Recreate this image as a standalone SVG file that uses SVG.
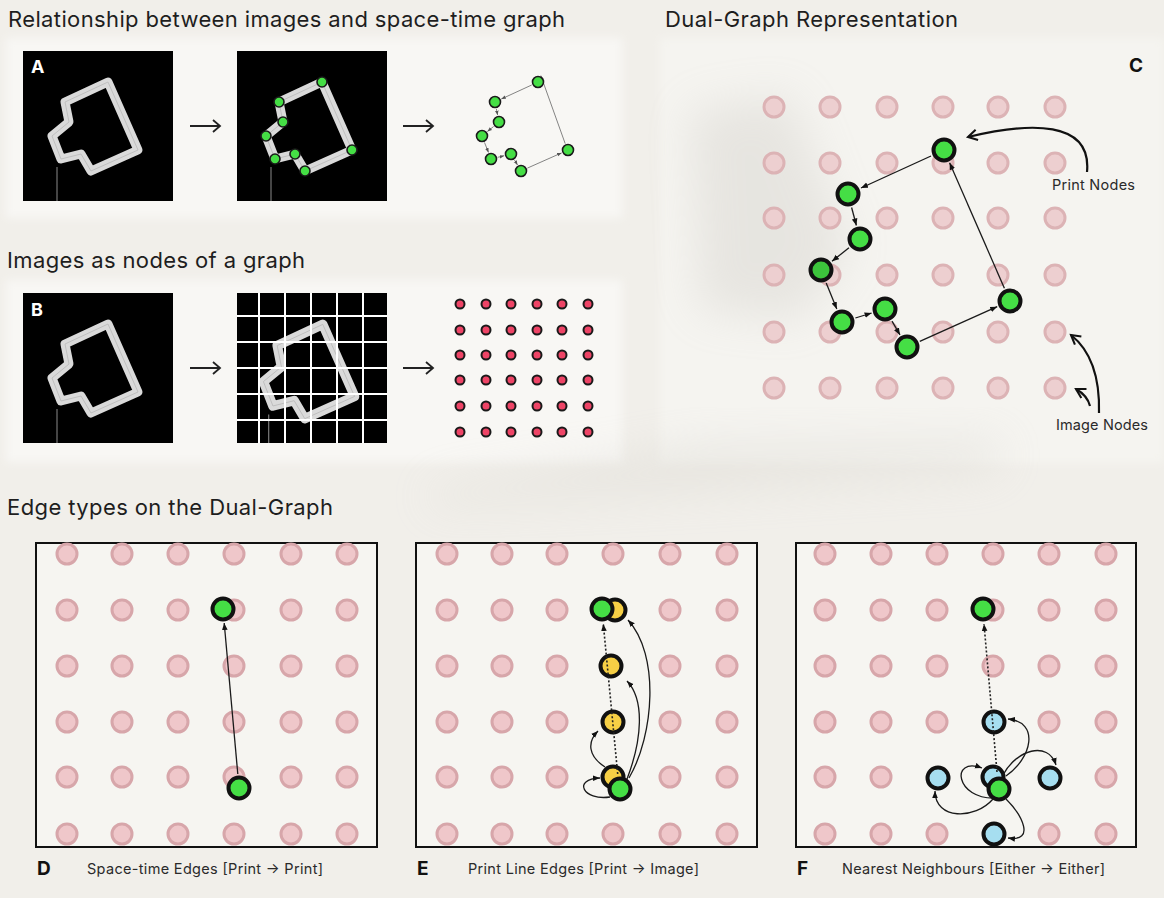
<svg xmlns="http://www.w3.org/2000/svg" xmlns:xlink="http://www.w3.org/1999/xlink" width="1164" height="898" viewBox="0 0 1164 898">
<style>
.title{font-family:Inter,"Liberation Sans",sans-serif;font-size:22px;fill:#1e1e1e}
.lbl{font-family:Inter,"Liberation Sans",sans-serif;font-size:14.5px;fill:#2a2a2a}
.letter{font-family:Inter,"Liberation Sans",sans-serif;font-weight:700;fill:#111}
.img{fill:#efc7ca;stroke:#d7a6aa;stroke-width:3}
.imgc{fill:#edcfd0;stroke:#dcb3b5;stroke-width:3}
.pr{fill:#45de45;stroke:#111;stroke-width:4}
.ye{fill:#f6cf45;stroke:#111;stroke-width:4}
.bl{fill:#a6def0;stroke:#111;stroke-width:4}
.sm{fill:#45de45;stroke:#1a1a1a;stroke-width:1.6}
.red{fill:#ee4466;stroke:#1a1a1a;stroke-width:2}
.edge{fill:none;stroke:#1a1a1a;stroke-width:1.3}
.edges{fill:none;stroke:#666;stroke-width:0.8}
.dot{fill:none;stroke:#222;stroke-width:1.6;stroke-dasharray:2 2}
.bigarrow{fill:none;stroke:#222;stroke-width:1.8}
.callout{fill:none;stroke:#111;stroke-width:2.2}
.frame{fill:#f6f5f1;stroke:#111;stroke-width:2}
</style>
<defs>
<marker id="ah" viewBox="0 0 10 10" refX="10" refY="5" markerWidth="7" markerHeight="7" markerUnits="userSpaceOnUse" orient="auto"><path d="M0,1 L10,5 L0,9 z" fill="#111"/></marker>
<marker id="ahs" viewBox="0 0 10 10" refX="10" refY="5" markerWidth="4.5" markerHeight="4.5" markerUnits="userSpaceOnUse" orient="auto"><path d="M0,1 L10,5 L0,9 z" fill="#555"/></marker>
<marker id="aho" viewBox="0 0 10 10" refX="8" refY="5" markerWidth="13" markerHeight="13" markerUnits="userSpaceOnUse" orient="auto"><path d="M1,1 L8,5 L1,9" fill="none" stroke="#111" stroke-width="1.6"/></marker>
<filter id="blur" x="-50%" y="-50%" width="200%" height="200%"><feGaussianBlur stdDeviation="22"/></filter>
<filter id="soft" x="-10%" y="-10%" width="120%" height="120%"><feGaussianBlur stdDeviation="4"/></filter>
<circle id="pk" cx="0" cy="0" r="10" class="img"/>
<circle id="pkc" cx="0" cy="0" r="10" class="imgc"/>
<circle id="rd" cx="0" cy="0" r="4.5" class="red"/>
<g id="shape">
<polygon points="85,31 42,51 46,71 29,85 38,108 58,103 68,120 115,99" fill="none" stroke="#dadada" stroke-width="9" stroke-linejoin="round"/>
<polygon points="85,31 42,51 46,71 29,85 38,108 58,103 68,120 115,99" fill="none" stroke="#b9b9b9" stroke-width="0.8"/>
<line x1="34" y1="116" x2="34" y2="150" stroke="#8a8a8a" stroke-width="1"/>
</g>
<clipPath id="gclip"><rect x="0" y="0" width="150" height="150"/></clipPath>
</defs>

<!-- background -->
<rect x="0" y="0" width="1164" height="898" fill="#f1efea"/>
<g id="bg-shading">
<rect x="6" y="38" width="616" height="180" fill="#f8f7f4" filter="url(#soft)"/>
<rect x="6" y="280" width="616" height="182" fill="#f8f7f4" filter="url(#soft)"/>
<rect x="660" y="38" width="504" height="425" fill="#f5f4f0" filter="url(#soft)"/>
<path d="M690,110 L790,95 L850,250 L800,320 L700,310 Z" fill="#bdb9b2" opacity="0.25" filter="url(#blur)"/>
<path d="M430,490 L700,445 L1000,440 L1000,470 L700,490 L430,505 Z" fill="#cfccc5" opacity="0.3" filter="url(#blur)"/>
</g>

<!-- titles -->
<text class="title" x="8" y="27" textLength="557" lengthAdjust="spacing">Relationship between images and space-time graph</text>
<text class="title" x="665" y="27" textLength="293" lengthAdjust="spacing">Dual-Graph Representation</text>
<text class="title" x="7" y="268" textLength="298" lengthAdjust="spacing">Images as nodes of a graph</text>
<text class="title" x="7" y="515" textLength="326" lengthAdjust="spacing">Edge types on the Dual-Graph</text>

<!-- Panel A -->
<g id="A-image">
<rect x="23" y="51" width="150" height="150" fill="#000"/>
<use href="#shape" transform="translate(23,51)"/>
<text class="letter" x="31" y="73" font-size="18" style="fill:#fff">A</text>
</g>
<g id="A-image-nodes">
<rect x="237" y="51" width="150" height="150" fill="#000"/>
<use href="#shape" transform="translate(237,51)"/>
<g>
<circle class="sm" cx="322" cy="82" r="5"/><circle class="sm" cx="279" cy="102" r="5"/>
<circle class="sm" cx="283" cy="122" r="5"/><circle class="sm" cx="266" cy="136" r="5"/>
<circle class="sm" cx="275" cy="159" r="5"/><circle class="sm" cx="295" cy="154" r="5"/>
<circle class="sm" cx="305" cy="171" r="5"/><circle class="sm" cx="352" cy="150" r="5"/>
</g>
</g>
<g id="A-arrows">
<path class="bigarrow" d="M190,126 H220 M213,120 L220,126 L213,132"/>
<path class="bigarrow" d="M403,126 H433 M426,120 L433,126 L426,132"/>
</g>
<g id="A-graph-edges">
<line class="edges" x1="531.7" y1="85" x2="501.3" y2="99" marker-end="url(#ahs)"/>
<line class="edges" x1="496.4" y1="108.9" x2="497.6" y2="115.1" marker-end="url(#ahs)"/>
<line class="edges" x1="493.6" y1="126.5" x2="487.4" y2="131.5" marker-end="url(#ahs)"/>
<line class="edges" x1="484.5" y1="142.5" x2="488.5" y2="152.5" marker-end="url(#ahs)"/>
<line class="edges" x1="497.8" y1="157.3" x2="504.2" y2="155.7" marker-end="url(#ahs)"/>
<line class="edges" x1="514.5" y1="160" x2="517.5" y2="165" marker-end="url(#ahs)"/>
<line class="edges" x1="527.4" y1="168.1" x2="561.6" y2="152.9" marker-end="url(#ahs)"/>
<line class="edges" x1="565.2" y1="143.6" x2="540.8" y2="75.6" marker-end="url(#ahs)"/>
</g>
<g id="A-graph-nodes">
<circle id="a1" class="sm" cx="538" cy="82" r="5.5"/><circle id="a2" class="sm" cx="495" cy="102" r="5.5"/>
<circle id="a3" class="sm" cx="499" cy="122" r="5.5"/><circle id="a4" class="sm" cx="482" cy="136" r="5.5"/>
<circle id="a5" class="sm" cx="491" cy="159" r="5.5"/><circle id="a6" class="sm" cx="511" cy="154" r="5.5"/>
<circle id="a7" class="sm" cx="521" cy="171" r="5.5"/><circle id="a8" class="sm" cx="568" cy="150" r="5.5"/>
</g>

<!-- Panel B -->
<g id="B-image">
<rect x="23" y="293" width="150" height="150" fill="#000"/>
<use href="#shape" transform="translate(23,293)"/>
<text class="letter" x="31" y="316" font-size="18" style="fill:#fff">B</text>
</g>
<g id="B-grid-image">
<rect x="237" y="293" width="150" height="150" fill="#000"/>
<g transform="translate(237,293)" clip-path="url(#gclip)">
<use href="#shape" transform="translate(72,78) scale(1.06) translate(-72,-75)"/>
</g>
<g stroke="#fff" stroke-width="2">
<line x1="259" y1="293" x2="259" y2="443"/><line x1="285" y1="293" x2="285" y2="443"/>
<line x1="311" y1="293" x2="311" y2="443"/><line x1="337" y1="293" x2="337" y2="443"/>
<line x1="363" y1="293" x2="363" y2="443"/>
<line x1="237" y1="316" x2="387" y2="316"/><line x1="237" y1="342" x2="387" y2="342"/>
<line x1="237" y1="368" x2="387" y2="368"/><line x1="237" y1="394" x2="387" y2="394"/>
<line x1="237" y1="420" x2="387" y2="420"/>
</g>
</g>
<g id="B-arrows">
<path class="bigarrow" d="M190,368 H220 M213,362 L220,368 L213,374"/>
<path class="bigarrow" d="M403,368 H433 M426,362 L433,368 L426,374"/>
</g>
<g id="B-nodes">
<use href="#rd" x="460" y="304"/><use href="#rd" x="486" y="304"/><use href="#rd" x="511" y="304"/><use href="#rd" x="537" y="304"/><use href="#rd" x="562" y="304"/><use href="#rd" x="588" y="304"/>
<use href="#rd" x="460" y="330"/><use href="#rd" x="486" y="330"/><use href="#rd" x="511" y="330"/><use href="#rd" x="537" y="330"/><use href="#rd" x="562" y="330"/><use href="#rd" x="588" y="330"/>
<use href="#rd" x="460" y="355"/><use href="#rd" x="486" y="355"/><use href="#rd" x="511" y="355"/><use href="#rd" x="537" y="355"/><use href="#rd" x="562" y="355"/><use href="#rd" x="588" y="355"/>
<use href="#rd" x="460" y="380"/><use href="#rd" x="486" y="380"/><use href="#rd" x="511" y="380"/><use href="#rd" x="537" y="380"/><use href="#rd" x="562" y="380"/><use href="#rd" x="588" y="380"/>
<use href="#rd" x="460" y="406"/><use href="#rd" x="486" y="406"/><use href="#rd" x="511" y="406"/><use href="#rd" x="537" y="406"/><use href="#rd" x="562" y="406"/><use href="#rd" x="588" y="406"/>
<use href="#rd" x="460" y="432"/><use href="#rd" x="486" y="432"/><use href="#rd" x="511" y="432"/><use href="#rd" x="537" y="432"/><use href="#rd" x="562" y="432"/><use href="#rd" x="588" y="432"/>
</g>

<!-- Panel C -->
<text class="letter" x="1129" y="72" font-size="19">C</text>
<g id="C-image-nodes">
<use href="#pkc" x="774" y="107"/><use href="#pkc" x="830" y="107"/><use href="#pkc" x="887" y="107"/><use href="#pkc" x="943" y="107"/><use href="#pkc" x="998" y="107"/><use href="#pkc" x="1055" y="107"/>
<use href="#pkc" x="774" y="163"/><use href="#pkc" x="830" y="163"/><use href="#pkc" x="887" y="163"/><use href="#pkc" x="943" y="163"/><use href="#pkc" x="998" y="163"/><use href="#pkc" x="1055" y="163"/>
<use href="#pkc" x="774" y="218"/><use href="#pkc" x="830" y="218"/><use href="#pkc" x="887" y="218"/><use href="#pkc" x="943" y="218"/><use href="#pkc" x="998" y="218"/><use href="#pkc" x="1055" y="218"/>
<use href="#pkc" x="774" y="275"/><use href="#pkc" x="830" y="275"/><use href="#pkc" x="887" y="275"/><use href="#pkc" x="943" y="275"/><use href="#pkc" x="998" y="275"/><use href="#pkc" x="1055" y="275"/>
<use href="#pkc" x="774" y="332"/><use href="#pkc" x="830" y="332"/><use href="#pkc" x="887" y="332"/><use href="#pkc" x="943" y="332"/><use href="#pkc" x="998" y="332"/><use href="#pkc" x="1055" y="332"/>
<use href="#pkc" x="774" y="388"/><use href="#pkc" x="830" y="388"/><use href="#pkc" x="887" y="388"/><use href="#pkc" x="943" y="388"/><use href="#pkc" x="998" y="388"/><use href="#pkc" x="1055" y="388"/>
</g>
<g id="C-connectors">
<line class="edge" x1="931" y1="156" x2="861" y2="188" marker-end="url(#ah)"/>
<line class="edge" x1="851.6" y1="207.5" x2="856.4" y2="225.5" marker-end="url(#ah)"/>
<line class="edge" x1="849" y1="247.7" x2="832" y2="261.3" marker-end="url(#ah)"/>
<line class="edge" x1="826.2" y1="283" x2="836.8" y2="309" marker-end="url(#ah)"/>
<line class="edge" x1="855.4" y1="318" x2="871.6" y2="313" marker-end="url(#ah)"/>
<line class="edge" x1="892" y1="321.1" x2="900" y2="334.9" marker-end="url(#ah)"/>
<line class="edge" x1="919.8" y1="341.3" x2="997.2" y2="306.7" marker-end="url(#ah)"/>
<line class="edge" x1="1004.4" y1="288.2" x2="949.6" y2="162.8" marker-end="url(#ah)"/>
<path class="callout" d="M1087,172 C1092,120 1030,122 968,137" marker-end="url(#aho)"/>
<path class="callout" d="M1099,413 C1100,375 1090,350 1071,335" marker-end="url(#aho)"/>
<path class="callout" d="M1090,406 C1088,398 1083,393 1076,389" marker-end="url(#aho)"/>
</g>
<g id="C-print-nodes">
<circle id="c1" class="pr" cx="944" cy="150" r="10.5"/>
<circle id="c2" class="pr" cx="848" cy="194" r="10.5"/>
<circle id="c3" class="pr" cx="860" cy="239" r="10.5"/>
<circle id="c4" class="pr" cx="821" cy="270" r="10.5" style="fill:#3cc43c"/>
<circle id="c5" class="pr" cx="842" cy="322" r="10.5"/>
<circle id="c6" class="pr" cx="885" cy="309" r="10.5"/>
<circle id="c7" class="pr" cx="907" cy="347" r="10.5"/>
<circle id="c8" class="pr" cx="1010" cy="301" r="10.5"/>
</g>
<text class="lbl" x="1052" y="190" textLength="83" lengthAdjust="spacing">Print Nodes</text>
<text class="lbl" x="1056" y="430" textLength="92" lengthAdjust="spacing">Image Nodes</text>

<!-- Panel D -->
<g id="D-frame"><rect class="frame" x="36" y="543" width="341" height="304"/></g>
<g id="D-image-nodes">
<use href="#pk" x="67" y="554"/><use href="#pk" x="122" y="554"/><use href="#pk" x="178" y="554"/><use href="#pk" x="234" y="554"/><use href="#pk" x="291" y="554"/><use href="#pk" x="347" y="554"/>
<use href="#pk" x="67" y="610"/><use href="#pk" x="122" y="610"/><use href="#pk" x="178" y="610"/><use href="#pk" x="234" y="610"/><use href="#pk" x="291" y="610"/><use href="#pk" x="347" y="610"/>
<use href="#pk" x="67" y="666"/><use href="#pk" x="122" y="666"/><use href="#pk" x="178" y="666"/><use href="#pk" x="234" y="666"/><use href="#pk" x="291" y="666"/><use href="#pk" x="347" y="666"/>
<use href="#pk" x="67" y="722"/><use href="#pk" x="122" y="722"/><use href="#pk" x="178" y="722"/><use href="#pk" x="234" y="722"/><use href="#pk" x="291" y="722"/><use href="#pk" x="347" y="722"/>
<use href="#pk" x="67" y="777"/><use href="#pk" x="122" y="777"/><use href="#pk" x="178" y="777"/><use href="#pk" x="234" y="777"/><use href="#pk" x="291" y="777"/><use href="#pk" x="347" y="777"/>
<use href="#pk" x="67" y="834"/><use href="#pk" x="122" y="834"/><use href="#pk" x="178" y="834"/><use href="#pk" x="234" y="834"/><use href="#pk" x="291" y="834"/><use href="#pk" x="347" y="834"/>
</g>
<g id="D-connectors">
<line class="edge" x1="237.8" y1="774" x2="224.2" y2="623" marker-end="url(#ah)"/>
</g>
<g id="D-print-nodes">
<circle id="d1" class="pr" cx="223" cy="609" r="10.5"/>
<circle id="d2" class="pr" cx="239" cy="788" r="10.5"/>
</g>
<text class="letter" x="37" y="875" font-size="19">D</text>
<text class="lbl" x="87" y="874" textLength="236" lengthAdjust="spacing">Space-time Edges [Print → Print]</text>

<!-- Panel E -->
<g id="E-frame"><rect class="frame" x="416" y="543" width="341" height="304"/></g>
<g id="E-image-nodes">
<use href="#pk" x="447" y="554"/><use href="#pk" x="502" y="554"/><use href="#pk" x="557" y="554"/><use href="#pk" x="613" y="554"/><use href="#pk" x="670" y="554"/><use href="#pk" x="727" y="554"/>
<use href="#pk" x="447" y="610"/><use href="#pk" x="502" y="610"/><use href="#pk" x="557" y="610"/><use href="#pk" x="670" y="610"/><use href="#pk" x="727" y="610"/>
<use href="#pk" x="447" y="666"/><use href="#pk" x="502" y="666"/><use href="#pk" x="557" y="666"/><use href="#pk" x="670" y="666"/><use href="#pk" x="727" y="666"/>
<use href="#pk" x="447" y="722"/><use href="#pk" x="502" y="722"/><use href="#pk" x="557" y="722"/><use href="#pk" x="670" y="722"/><use href="#pk" x="727" y="722"/>
<use href="#pk" x="447" y="777"/><use href="#pk" x="502" y="777"/><use href="#pk" x="557" y="777"/><use href="#pk" x="670" y="777"/><use href="#pk" x="727" y="777"/>
<use href="#pk" x="447" y="834"/><use href="#pk" x="502" y="834"/><use href="#pk" x="557" y="834"/><use href="#pk" x="613" y="834"/><use href="#pk" x="670" y="834"/><use href="#pk" x="727" y="834"/>
</g>
<g id="E-image-nodes-active">
<circle id="e-y1" class="ye" cx="615" cy="610" r="10.5"/>
<circle id="e-y2" class="ye" cx="611" cy="666" r="10.5"/>
<circle id="e-y3" class="ye" cx="613" cy="722" r="10.5"/>
<circle id="e-y4" class="ye" cx="613" cy="777" r="10.5"/>
</g>
<g id="E-connectors">
<line class="dot" x1="617.7" y1="774" x2="603.3" y2="624" marker-end="url(#ah)"/>
<path class="edge" d="M629,778 C654,735 660,655 628,620" marker-end="url(#ah)"/>
<path class="edge" d="M627,779 C642,740 645,700 627,681" marker-end="url(#ah)"/>
<path class="edge" d="M605,767 C588,756 587,742 598,731" marker-end="url(#ah)"/>
<path class="edge" d="M610,797 C583,801 572,779 600,778" marker-end="url(#ah)"/>
</g>
<g id="E-print-nodes">
<circle id="e1" class="pr" cx="602" cy="609" r="10.5"/>
<circle id="e2" class="pr" cx="620" cy="789" r="10.5"/>
</g>
<text class="letter" x="417" y="875" font-size="19">E</text>
<text class="lbl" x="468" y="874" textLength="231" lengthAdjust="spacing">Print Line Edges [Print → Image]</text>

<!-- Panel F -->
<g id="F-frame"><rect class="frame" x="796" y="543" width="340" height="304"/></g>
<g id="F-image-nodes">
<use href="#pk" x="825" y="554"/><use href="#pk" x="881" y="554"/><use href="#pk" x="937" y="554"/><use href="#pk" x="993" y="554"/><use href="#pk" x="1049" y="554"/><use href="#pk" x="1106" y="554"/>
<use href="#pk" x="825" y="610"/><use href="#pk" x="881" y="610"/><use href="#pk" x="937" y="610"/><use href="#pk" x="993" y="610"/><use href="#pk" x="1049" y="610"/><use href="#pk" x="1106" y="610"/>
<use href="#pk" x="825" y="666"/><use href="#pk" x="881" y="666"/><use href="#pk" x="937" y="666"/><use href="#pk" x="993" y="666"/><use href="#pk" x="1049" y="666"/><use href="#pk" x="1106" y="666"/>
<use href="#pk" x="825" y="722"/><use href="#pk" x="881" y="722"/><use href="#pk" x="937" y="722"/><use href="#pk" x="1049" y="722"/><use href="#pk" x="1106" y="722"/>
<use href="#pk" x="825" y="777"/><use href="#pk" x="881" y="777"/><use href="#pk" x="1106" y="777"/>
<use href="#pk" x="825" y="834"/><use href="#pk" x="881" y="834"/><use href="#pk" x="937" y="834"/><use href="#pk" x="1049" y="834"/><use href="#pk" x="1106" y="834"/>
</g>
<g id="F-neighbour-nodes">
<circle id="f-b1" class="bl" cx="994" cy="722" r="10.5"/>
<circle id="f-b2" class="bl" cx="938" cy="778" r="10.5"/>
<circle id="f-b3" class="bl" cx="993" cy="777" r="10.5"/>
<circle id="f-b4" class="bl" cx="1050" cy="778" r="10.5"/>
<circle id="f-b5" class="bl" cx="994" cy="834" r="10.5"/>
</g>
<g id="F-connectors">
<line class="dot" x1="997" y1="772" x2="984" y2="624" marker-end="url(#ah)"/>
<path class="edge" d="M1006,776 C1032,758 1040,722 1008,719" marker-end="url(#ah)"/>
<path class="edge" d="M1003,775 C1016,750 1048,740 1056,765" marker-end="url(#ah)"/>
<path class="edge" d="M993,799 C975,820 935,820 935,791" marker-end="url(#ah)"/>
<path class="edge" d="M1006,799 C1022,815 1036,842 1008,838" marker-end="url(#ah)"/>
<path class="edge" d="M996,798 C955,800 950,756 982,768" marker-end="url(#ah)"/>
</g>
<g id="F-print-nodes">
<circle id="f1" class="pr" cx="983" cy="609" r="10.5"/>
<circle id="f2" class="pr" cx="999" cy="789" r="10.5"/>
</g>
<text class="letter" x="797" y="875" font-size="19">F</text>
<text class="lbl" x="842" y="874" textLength="263" lengthAdjust="spacing">Nearest Neighbours [Either → Either]</text>
</svg>
